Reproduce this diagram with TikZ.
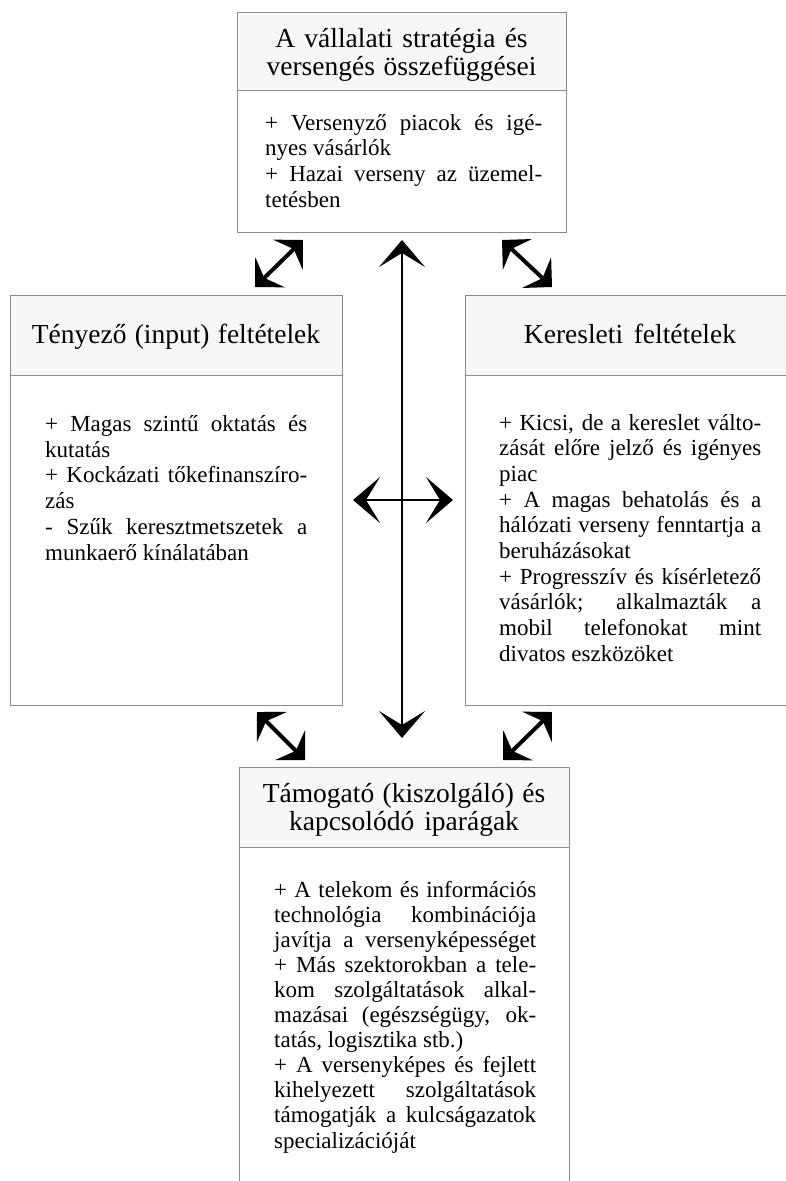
\documentclass[tikz,border=0pt]{standalone}
\usepackage{fontspec}
\setmainfont{Liberation Serif}
\usetikzlibrary{arrows.meta}
\newcommand\resetsp{\spaceskip=0pt\xspaceskip=0pt\relax}
\newcommand\jline[1]{\noindent\hbox to \hsize{\resetsp #1}}
\begin{document}
\begin{tikzpicture}[x=1pt,y=-1pt,
  band/.style={draw=black!45, line width=0.8pt, fill=black!3, inner sep=0pt, outer sep=0pt, anchor=north west},
  bodybox/.style={draw=black!45, line width=0.8pt, fill=white, inner sep=0pt, outer sep=0pt, anchor=north west},
  ttl/.style={font=\fontsize{27.5}{28}\selectfont, align=center, inner sep=0pt, anchor=base},
  bodytxt/.style={font=\fontsize{23}{25.7}\selectfont, align=left, inner sep=0pt, anchor=base west},
  bigarrow/.style={line width=2.4pt, >={Stealth[length=27pt,width=46pt,inset=14pt]}, <->},
  diagarrow/.style={line width=4pt, >={Stealth[length=21pt,width=42pt,inset=8pt]}, <->}
]
\useasboundingbox (0,0) rectangle (786,1181);
\fill[white] (0,0) rectangle (786,1181);

% top box
\node[band, minimum width=329pt, minimum height=78pt] (topT) at (237,12) {};
\node[bodybox, minimum width=329pt, minimum height=142pt] (topB) at (237,90) {};
\node[ttl, text width=329pt] (topTt) at (401.5,47) {\resetsp A vállalati stratégia és\\versengés összefüggései};
\node[bodytxt, text width=277pt] (topBt) at (265,130) {\resetsp
\jline{+ Versenyző piacok és igé-}\\
nyes vásárlók\\
\jline{+ Hazai verseny az üzemel-}\\
tetésben};

% left box
\node[band, minimum width=332pt, minimum height=80pt] (leftT) at (10,295) {};
\node[bodybox, minimum width=332pt, minimum height=330pt] (leftB) at (10,375) {};
\node[ttl, text width=332pt] (leftTt) at (176,343) {\resetsp Tényező (input) feltételek};
\node[bodytxt, text width=262pt] (leftBt) at (45,431.5) {\resetsp
\jline{+ Magas szintű oktatás és}\\
kutatás\\
\jline{+ Kockázati tőkefinanszíro-}\\
zás\\
\jline{- Szűk keresztmetszetek a}\\
munkaerő kínálatában};

% right box
\node[band, minimum width=330pt, minimum height=80pt] (rightT) at (465,295) {};
\node[bodybox, minimum width=330pt, minimum height=330pt] (rightB) at (465,375) {};
\node[ttl, text width=330pt] (rightTt) at (630,343) {\resetsp Keresleti feltételek};
\node[bodytxt, text width=262pt] (rightBt) at (499,430) {\resetsp
\jline{+ Kicsi, de a kereslet válto-}\\
\jline{zását előre jelző és igényes}\\
piac\\
\jline{+ A magas behatolás és a}\\
\jline{hálózati verseny fenntartja a}\\
beruházásokat\\
\jline{+ Progresszív és kísérletező}\\
\jline{vásárlók; alkalmazták a}\\
\jline{mobil telefonokat mint}\\
divatos eszközöket};

% bottom box
\node[band, minimum width=330pt, minimum height=80pt] (botT) at (239,767) {};
\node[bodybox, minimum width=330pt, minimum height=345pt] (botB) at (239,847) {};
\node[ttl, text width=330pt] (botTt) at (404,802) {\resetsp Támogató (kiszolgáló) és\\kapcsolódó iparágak};
\node[bodytxt, text width=262pt, font=\fontsize{23}{25.1}\selectfont] (botBt) at (274,897) {\resetsp
\jline{+ A telekom és információs}\\
\jline{technológia kombinációja}\\
\jline{javítja a versenyképességet}\\
\jline{+ Más szektorokban a tele-}\\
\jline{kom szolgáltatások alkal-}\\
\jline{mazásai (egészségügy, ok-}\\
tatás, logisztika stb.)\\
\jline{+ A versenyképes és fejlett}\\
\jline{kihelyezett szolgáltatások}\\
\jline{támogatják a kulcságazatok}\\
specializációját};

% arrow end points
\coordinate (vT) at (402,240);
\coordinate (vB) at (402,738);
\coordinate (hL) at (353,500);
\coordinate (hR) at (453,500);
\coordinate (a1s) at (255,287);
\coordinate (a1e) at (303,240);
\coordinate (a2s) at (502,240);
\coordinate (a2e) at (552,287);
\coordinate (a3s) at (257,712);
\coordinate (a3e) at (305,760);
\coordinate (a4s) at (503,760);
\coordinate (a4e) at (552,712);

\draw[bigarrow] (vT) -- (vB);
\draw[bigarrow] (hL) -- (hR);
\draw[diagarrow] (a1s) -- (a1e);
\draw[diagarrow] (a2s) -- (a2e);
\draw[diagarrow] (a3s) -- (a3e);
\draw[diagarrow] (a4s) -- (a4e);
\end{tikzpicture}
\end{document}
